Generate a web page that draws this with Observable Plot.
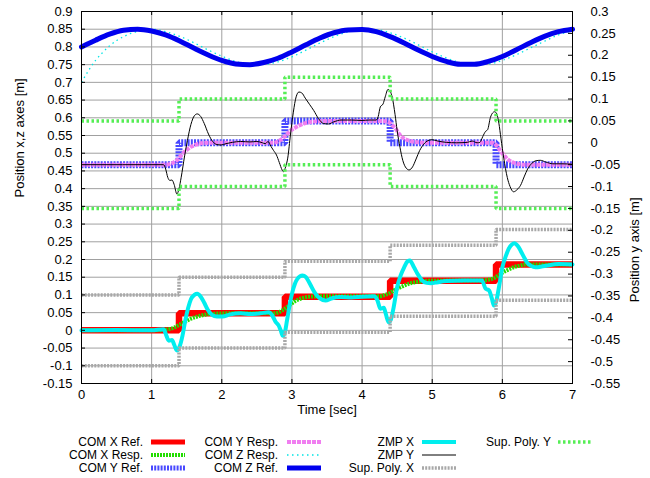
<!DOCTYPE html>
<html><head><meta charset="utf-8">
<script src="https://cdn.jsdelivr.net/npm/d3@7"></script>
<script src="https://cdn.jsdelivr.net/npm/@observablehq/plot@0.6"></script>
<style>
body{margin:0;background:#fff;font-family:"Liberation Sans",Arial,sans-serif;}
#chart{width:650px;}
#chart svg{display:block;}
</style></head><body><div id="chart"></div>
<script>
// ---------- tick labels ----------
const xTicks = [0,1,2,3,4,5,6,7];
const leftTicks = [-0.15,-0.1,-0.05,0,0.05,0.1,0.15,0.2,0.25,0.3,0.35,0.4,0.45,0.5,0.55,0.6,0.65,0.7,0.75,0.8,0.85,0.9];
const rightTicks = [-0.55,-0.5,-0.45,-0.4,-0.35,-0.3,-0.25,-0.2,-0.15,-0.1,-0.05,0,0.05,0.1,0.15,0.2,0.25,0.3];

// ---------- step series (value held from each step time) ----------
const stepTime  = [0, 1.39, 2.9, 4.4, 5.91, 7];
const comXRef   = [0, 0.048, 0.095, 0.14, 0.186, 0.186];
const comYRef   = [-0.05, 0, 0.05, 0, -0.05, -0.05];          // right axis
const supXLow   = [-0.1, -0.05, -0.005, 0.04, 0.085, 0.085];
const supXHigh  = [0.1, 0.15, 0.195, 0.24, 0.285, 0.285];
const supYLow   = [-0.15, -0.1, -0.05, -0.1, -0.15, -0.15];   // right axis
const supYHigh  = [0.05, 0.1, 0.15, 0.1, 0.05, 0.05];         // right axis

// ---------- smooth series [time, value] ----------
const comXResp = [[0,0],[1.1,0],[1.2,0.002],[1.3,0.006],[1.4,0.016],[1.48,0.025],[1.55,0.032],[1.65,0.039],[1.79,0.045],[1.9,0.047],[2.05,0.048],[2.75,0.048],[2.8,0.05],[2.86,0.056],[2.96,0.07],[3.05,0.083],[3.15,0.091],[3.25,0.095],[3.4,0.096],[4.25,0.096],[4.33,0.1],[4.41,0.107],[4.48,0.116],[4.55,0.122],[4.62,0.128],[4.69,0.133],[4.8,0.137],[4.95,0.14],[5.7,0.141],[5.8,0.143],[5.88,0.147],[5.95,0.156],[6.02,0.165],[6.09,0.172],[6.16,0.178],[6.25,0.183],[6.35,0.186],[7,0.186]];

const comYResp = [[0,-0.05],[1.2,-0.05],[1.3,-0.046],[1.36,-0.04],[1.41,-0.031],[1.46,-0.022],[1.51,-0.015],[1.55,-0.01],[1.62,-0.005],[1.7,-0.001],[1.84,0],[2.74,0],[2.8,0.003],[2.86,0.009],[2.92,0.018],[2.98,0.028],[3.04,0.034],[3.1,0.039],[3.17,0.044],[3.24,0.047],[3.35,0.049],[3.5,0.05],[4.3,0.05],[4.38,0.047],[4.43,0.04],[4.48,0.032],[4.52,0.022],[4.57,0.013],[4.62,0.008],[4.69,0.004],[4.8,0.001],[4.95,0],[5.85,0],[5.91,-0.005],[5.97,-0.018],[6.02,-0.028],[6.07,-0.037],[6.14,-0.044],[6.21,-0.048],[6.35,-0.05],[7,-0.05]];

const comZRefT = [0,0.2,0.4,0.6,0.8,1,1.2,1.4,1.6,1.8,2,2.2,2.4,2.6,2.8,3,3.2,3.4,3.6,3.8,4,4.2,4.4,4.6,4.8,5,5.2,5.4,5.6,5.8,6,6.2,6.4,6.6,6.8,7];
const comZRefV = [0.800,0.819,0.836,0.847,0.850,0.845,0.834,0.817,0.797,0.778,0.762,0.752,0.750,0.756,0.768,0.786,0.806,0.825,0.840,0.848,0.849,0.843,0.829,0.811,0.791,0.773,0.759,0.751,0.751,0.759,0.773,0.792,0.812,0.830,0.843,0.850];

const comZRespT = [0,0.1,0.2,0.3,0.4,0.5,0.6,0.7,0.8,0.9,1,1.2,1.4,1.6,1.8,2,2.2,2.4,2.6,2.8,3,3.2,3.4,3.6,3.8,4,4.2,4.4,4.6,4.8,5,5.2,5.4,5.6,5.8,6,6.2,6.4,6.6,6.8,7];
const comZRespV = [0.700,0.733,0.762,0.784,0.803,0.818,0.829,0.838,0.844,0.848,0.850,0.843,0.830,0.812,0.792,0.774,0.759,0.751,0.751,0.758,0.772,0.791,0.811,0.829,0.843,0.849,0.849,0.840,0.825,0.806,0.786,0.769,0.756,0.750,0.752,0.762,0.778,0.797,0.816,0.834,0.846];

const zmpX = [[0,0],[0.5,0.001],[1,0],[1.17,0.003],[1.21,-0.015],[1.245,-0.029],[1.29,-0.027],[1.32,-0.04],[1.36,-0.057],[1.4,-0.045],[1.44,-0.015],[1.48,0.028],[1.52,0.063],[1.56,0.088],[1.61,0.1],[1.65,0.103],[1.7,0.095],[1.75,0.078],[1.8,0.058],[1.86,0.044],[1.93,0.039],[2.01,0.039],[2.12,0.045],[2.27,0.048],[2.41,0.046],[2.55,0.048],[2.67,0.051],[2.72,0.042],[2.77,0.023],[2.81,0.014],[2.84,0],[2.87,-0.015],[2.9,-0.005],[2.93,0.028],[2.97,0.075],[3,0.103],[3.04,0.13],[3.08,0.146],[3.15,0.155],[3.2,0.15],[3.26,0.13],[3.33,0.105],[3.4,0.09],[3.48,0.084],[3.56,0.09],[3.7,0.094],[3.85,0.093],[4,0.095],[4.17,0.096],[4.22,0.084],[4.26,0.061],[4.31,0.064],[4.34,0.045],[4.38,0.023],[4.41,0.03],[4.45,0.065],[4.5,0.122],[4.55,0.155],[4.6,0.178],[4.65,0.195],[4.68,0.197],[4.74,0.178],[4.79,0.16],[4.85,0.142],[4.92,0.134],[4.98,0.133],[5.08,0.136],[5.2,0.139],[5.45,0.141],[5.6,0.141],[5.71,0.141],[5.76,0.118],[5.81,0.113],[5.85,0.09],[5.88,0.07],[5.91,0.08],[5.95,0.12],[6,0.178],[6.05,0.21],[6.09,0.23],[6.14,0.243],[6.17,0.246],[6.22,0.238],[6.26,0.225],[6.31,0.206],[6.35,0.192],[6.41,0.182],[6.47,0.178],[6.56,0.18],[6.64,0.183],[6.8,0.187],[7,0.186]];

const zmpY = [[0,-0.05],[1.17,-0.05],[1.2,-0.06],[1.23,-0.079],[1.26,-0.086],[1.29,-0.085],[1.32,-0.095],[1.36,-0.117],[1.39,-0.105],[1.42,-0.08],[1.47,-0.03],[1.51,0.005],[1.56,0.042],[1.61,0.062],[1.65,0.066],[1.7,0.06],[1.75,0.044],[1.81,0.02],[1.87,0.003],[1.93,-0.004],[1.99,-0.005],[2.06,-0.002],[2.15,0.001],[2.27,0.003],[2.4,0.002],[2.5,0.003],[2.58,0],[2.62,-0.002],[2.66,0.003],[2.7,-0.008],[2.74,-0.018],[2.78,-0.028],[2.82,-0.045],[2.86,-0.062],[2.88,-0.066],[2.91,-0.055],[2.94,-0.035],[2.98,0.02],[3.02,0.07],[3.06,0.105],[3.1,0.116],[3.14,0.114],[3.19,0.102],[3.25,0.088],[3.31,0.074],[3.38,0.055],[3.45,0.044],[3.52,0.043],[3.6,0.048],[3.7,0.052],[3.85,0.052],[4,0.051],[4.1,0.052],[4.2,0.052],[4.23,0.06],[4.26,0.082],[4.3,0.089],[4.33,0.105],[4.37,0.122],[4.4,0.118],[4.43,0.104],[4.47,0.065],[4.5,0.028],[4.54,-0.01],[4.58,-0.04],[4.63,-0.058],[4.67,-0.062],[4.72,-0.055],[4.77,-0.037],[4.82,-0.018],[4.88,-0.003],[4.94,0.005],[5,0.007],[5.08,0.004],[5.2,0.001],[5.35,0],[5.5,0.001],[5.57,0.004],[5.64,0],[5.68,0.001],[5.72,0.014],[5.76,0.026],[5.79,0.03],[5.83,0.058],[5.86,0.068],[5.89,0.071],[5.92,0.066],[5.95,0.045],[5.98,0.01],[6.02,-0.035],[6.07,-0.079],[6.11,-0.1],[6.16,-0.112],[6.21,-0.107],[6.26,-0.097],[6.31,-0.078],[6.36,-0.06],[6.42,-0.047],[6.48,-0.041],[6.54,-0.04],[6.62,-0.044],[6.72,-0.048],[6.85,-0.048],[7,-0.049]];

// ---------- helpers ----------
const L0 = -0.15, L1 = 0.9, R0 = -0.55, R1 = 0.3;
const toLeft = r => L0 + (r - R0) * (L1 - L0) / (R1 - R0);
const fromLeft = l => R0 + (l - L0) * (R1 - R0) / (L1 - L0);
const fmt = v => { let s = String(+(+v).toFixed(2)); if (s === "-0") s = "0"; return s; };
const conv = (v, ax) => ax === "y2" ? toLeft(v) : v;
const fromPairs = (pairs, ax) => pairs.map(([t, v]) => ({t, v: conv(v, ax)}));
const fromCols = (ts, vs, ax) => ts.map((t, i) => ({t, v: conv(vs[i], ax)}));
const fromSteps = (vs, ax) => fromCols(stepTime, vs, ax);

const FONT = '"Liberation Sans", Arial, Helvetica, sans-serif';

const series = [
  {name: "COM X Ref.",   parts: [fromSteps(comXRef)],            stroke: "#ff0000", w: 6.5, dash: null,      curve: "step-after"},
  {name: "COM X Resp.",  parts: [fromPairs(comXResp)],           stroke: "#22dd00", w: 4,   dash: "2,1",     curve: "monotone-x"},
  {name: "COM Y Ref.",   parts: [fromSteps(comYRef, "y2")],      stroke: "#4848ff", w: 7,   dash: "2,1.2",   curve: "step-after"},
  {name: "COM Y Resp.",  parts: [fromPairs(comYResp, "y2")],     stroke: "#f07ef0", w: 4,   dash: "4,1",     curve: "monotone-x"},
  {name: "COM Z Resp.",  parts: [fromCols(comZRespT, comZRespV)], stroke: "#00e5e5", w: 1.3, dash: "1.5,3.5", curve: "monotone-x"},
  {name: "COM Z Ref.",   parts: [fromCols(comZRefT, comZRefV)],  stroke: "#0000ee", w: 5,   dash: null,      curve: "monotone-x"},
  {name: "ZMP X",        parts: [fromPairs(zmpX)],               stroke: "#00eeee", w: 4,   dash: null,      curve: "monotone-x"},
  {name: "ZMP Y",        parts: [fromPairs(zmpY, "y2")],         stroke: "#000000", w: 1,   dash: null,      curve: "monotone-x"},
  {name: "Sup. Poly. X", parts: [fromSteps(supXLow), fromSteps(supXHigh)], stroke: "#a8a8a8", w: 3.5, dash: "2,1.2", curve: "step-after"},
  {name: "Sup. Poly. Y", parts: [fromSteps(supYLow, "y2"), fromSteps(supYHigh, "y2")], stroke: "#55ee55", w: 3.5, dash: "2.5,2.5", curve: "step-after"}
];

const W = 650, H = 425, ML = 81, MR = 78, MT = 11, MB = 42;
const innerW = W - ML - MR, innerH = H - MT - MB;
const TL = 4;

const lineMarks = [];
for (const s of series) {
  const isStep = s.curve === "step-after";
  for (const d of s.parts) {
    lineMarks.push(Plot.line(d, {
      x: "t", y: "v", stroke: s.stroke, strokeWidth: s.w,
      strokeDasharray: s.dash || undefined,
      strokeLinecap: (s.dash || isStep) ? "butt" : "round",
      strokeLinejoin: isStep ? "miter" : "round",
      curve: s.curve
    }));
  }
}

const chart = Plot.plot({
  width: W, height: H,
  marginLeft: ML, marginRight: MR, marginTop: MT, marginBottom: MB,
  x: {domain: [0, 7]},
  y: {domain: [L0, L1]},
  style: {fontFamily: FONT, fontSize: "13px", color: "#000", background: "#fff", overflow: "visible"},
  marks: [
    Plot.gridX(xTicks, {stroke: "#a0a0a0", strokeOpacity: 1, strokeWidth: 1}),
    Plot.gridY(leftTicks, {stroke: "#a0a0a0", strokeOpacity: 1, strokeWidth: 1}),
    ...lineMarks,
    Plot.tickY(leftTicks, {y: d => d, stroke: "#000", insetRight: innerW - TL}),
    Plot.tickY(rightTicks.map(toLeft), {y: d => d, stroke: "#000", insetLeft: innerW - TL}),
    Plot.tickX(xTicks, {x: d => d, stroke: "#000", insetTop: innerH - TL}),
    Plot.tickX(xTicks, {x: d => d, stroke: "#000", insetBottom: innerH - TL}),
    Plot.frame({stroke: "#000", strokeWidth: 1}),
    Plot.axisX(xTicks, {tickSize: 0, tickPadding: 6, label: null, tickFormat: d => String(d), fontSize: 13}),
    Plot.axisY(leftTicks, {anchor: "left", tickSize: 0, tickPadding: 9, label: null, tickFormat: fmt, fontSize: 13}),
    Plot.axisY(rightTicks.map(toLeft), {anchor: "right", tickSize: 0, tickPadding: 18, label: null, tickFormat: d => fmt(fromLeft(d)), fontSize: 13}),
    Plot.text(["Time [sec]"], {text: d => d, frameAnchor: "bottom", dy: 30, fontSize: 13}),
    Plot.text(["Position x,z axes [m]"], {text: d => d, frameAnchor: "left", dx: -62, rotate: -90, fontSize: 13}),
    Plot.text(["Position y axis [m]"], {text: d => d, frameAnchor: "right", dx: 62, rotate: -90, fontSize: 13})
  ]
});
document.getElementById("chart").appendChild(chart);

// ---------- legend ----------
const legendCols = [
  {textRight: 143, sampleX: 151, items: ["COM X Ref.", "COM X Resp.", "COM Y Ref."]},
  {textRight: 278, sampleX: 287, items: ["COM Y Resp.", "COM Z Resp.", "COM Z Ref."]},
  {textRight: 414, sampleX: 422, items: ["ZMP X", "ZMP Y", "Sup. Poly. X"]},
  {textRight: 551, sampleX: 558, items: ["Sup. Poly. Y"]}
];
const rowY = [17, 30, 43];
const LH = 478 - H;
const leg = d3.select("#chart").append("svg")
  .attr("width", W).attr("height", LH)
  .style("font-family", FONT).style("font-size", "12px");
for (const col of legendCols) {
  col.items.forEach((name, i) => {
    const s = series.find(q => q.name === name);
    leg.append("text").attr("x", col.textRight).attr("y", rowY[i])
      .attr("text-anchor", "end").attr("dominant-baseline", "central")
      .attr("fill", "#000").text(name);
    leg.append("line").attr("x1", col.sampleX).attr("x2", col.sampleX + 34)
      .attr("y1", rowY[i]).attr("y2", rowY[i])
      .attr("stroke", s.stroke).attr("stroke-width", Math.min(s.w, 5))
      .attr("stroke-dasharray", s.dash || null);
  });
}
</script>
</body></html>
